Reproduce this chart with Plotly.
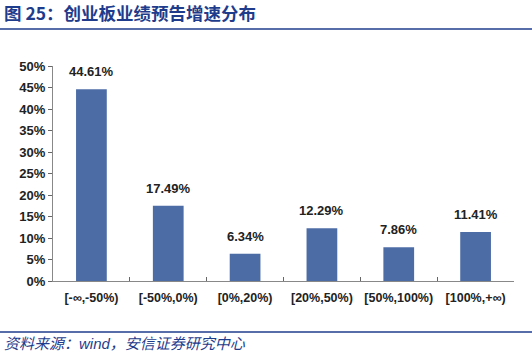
import plotly.graph_objects as go

categories = ["[-∞,-50%)", "[-50%,0%)", "[0%,20%)", "[20%,50%)", "[50%,100%)", "[100%,+∞)"]
values = [44.61, 17.49, 6.34, 12.29, 7.86, 11.41]
y_ticks = [0, 5, 10, 15, 20, 25, 30, 35, 40, 45, 50]
y_tick_labels = [f"{v}%" for v in y_ticks]

title_text = "图 25：创业板业绩预告增速分布"
source_text = "资料来源：wind，安信证券研究中心"

blue = "#1F3C8C"
bar_color = "#4C6CA6"

W, H = 532, 357
L, R, T, B = 53, 18, 66, 76
PW, PH = W - L - R, H - T - B

fig = go.Figure()
fig.add_trace(go.Bar(
    x=categories,
    y=values,
    width=0.4,
    marker=dict(color=bar_color, line=dict(width=0)),
    cliponaxis=False,
    hoverinfo="skip",
))

label_annotations = [
    dict(x=c, y=v, xref="x", yref="y", text=f"<b>{v:.2f}%</b>", showarrow=False,
         yanchor="bottom", yshift=8,
         font=dict(family="Arial, Liberation Sans", size=13, color="#222222"))
    for c, v in zip(categories, values)
]

fig.update_layout(
    width=W, height=H,
    margin=dict(l=L, r=R, t=T, b=B),
    paper_bgcolor="white", plot_bgcolor="white",
    showlegend=False,
    font=dict(family="Arial, Liberation Sans", size=12, color="#222222"),
    xaxis=dict(
        showline=True, linecolor="#888888", linewidth=1,
        ticks="inside", ticklen=4, tickcolor="#666666", tickson="boundaries",
        tickangle=0, ticklabelstandoff=5,
        tickfont=dict(family="Arial, Liberation Sans", size=12.5, color="#222222", weight="bold"),
        showgrid=False, zeroline=False,
    ),
    yaxis=dict(
        range=[0, 50],
        tickvals=y_ticks, ticktext=y_tick_labels,
        showline=True, linecolor="#888888", linewidth=1,
        ticks="outside", ticklen=4, tickcolor="#666666",
        tickfont=dict(family="Arial, Liberation Sans", size=13, color="#222222", weight="bold"),
        showgrid=False, zeroline=False,
    ),
    shapes=[
        dict(type="line", xref="paper", yref="paper", x0=-L/PW, x1=(W-L)/PW,
             y0=(H-B-29)/PH, y1=(H-B-29)/PH, line=dict(color=blue, width=1.5)),
        dict(type="line", xref="paper", yref="paper", x0=-L/PW, x1=(W-L)/PW,
             y0=-(332-(H-B))/PH, y1=-(332-(H-B))/PH, line=dict(color=blue, width=1.5)),
    ],
    annotations=label_annotations + [
        dict(text="<b>" + title_text + "</b>", xref="paper", yref="paper",
             x=-(L-2)/PW, y=(H-B-13)/PH, xanchor="left", yanchor="middle", showarrow=False,
             font=dict(family="Noto Sans CJK SC, Arial", size=17.5, color=blue)),
        dict(text="<i>" + source_text + "</i>", xref="paper", yref="paper",
             x=-(L-2)/PW, y=-(343-(H-B))/PH, xanchor="left", yanchor="middle", showarrow=False,
             font=dict(family="Arial, Noto Sans CJK SC", size=15, color=blue)),
    ],
)

fig.write_html("out.html", config={"displayModeBar": False},
               post_script="document.body.style.margin='0';document.body.style.overflow='hidden';")
